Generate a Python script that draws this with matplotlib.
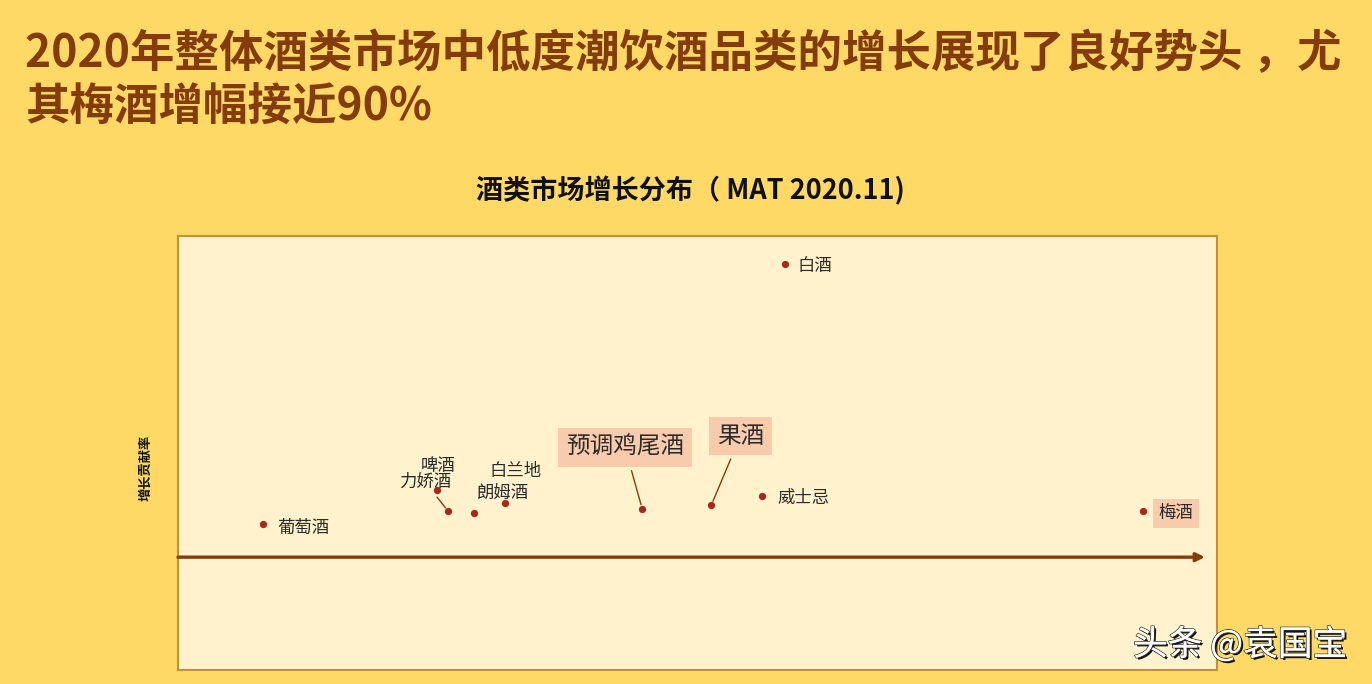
import matplotlib
matplotlib.use("Agg")
import matplotlib.pyplot as plt
import matplotlib.patheffects as pe

plt.rcParams['font.family'] = ['Noto Sans CJK SC', 'DejaVu Sans']

# ---- data (x = growth rate, y = growth contribution) ----
categories = ['葡萄酒', '啤酒', '力娇酒', '朗姆酒', '白兰地', '预调鸡尾酒', '果酒', '威士忌', '白酒', '梅酒']
growth     = [-15.2, 4.9, 6.2, 9.2, 12.8, 28.6, 36.6, 42.5, 45.1, 86.5]
contrib    = [3.8, 7.7, 5.3, 5.1, 6.2, 5.6, 6.0, 7.0, 33.8, 5.3]

title_text = '2020年整体酒类市场中低度潮饮酒品类的增长展现了良好势头 ，尤\n其梅酒增幅接近90%'
chart_title = '酒类市场增长分布（ MAT 2020.11)'
ylabel_text = '增长贡献率'
watermark = '头条 @袁国宝'

# label style per category: (dx px, dy px, ha, fontsize, boxed, leader line)
label_style = {
    '葡萄酒':   (15, -4, 'left', 12.5, False, False),
    '啤酒':     (1, 24, 'center', 12.5, False, False),
    '力娇酒':   (-23, 29, 'center', 12.5, False, True),
    '朗姆酒':   (28, 20, 'center', 12.5, False, False),
    '白兰地':   (10, 32, 'center', 12.5, False, False),
    '预调鸡尾酒': (-17, 61, 'center', 17, True, True),
    '果酒':     (29, 69, 'center', 17, True, True),
    '威士忌':   (15, -2, 'left', 12.5, False, False),
    '白酒':     (13, -2, 'left', 12.5, False, False),
    '梅酒':     (15, -2, 'left', 12.5, True, False),
}

OUTER = '#FFD966'
INNER = '#FFF2CC'
BROWN = '#843C0C'
DOT = '#A8281A'
BOX = '#F8CBAD'

fig = plt.figure(figsize=(13.72, 6.84), dpi=100, facecolor=OUTER)

fig.text(25 / 1372, 1 - 81 / 684, title_text, fontsize=32, fontweight='bold',
         color=BROWN, ha='left', va='center', linespacing=1.2)
fig.text(690 / 1372, 1 - 191 / 684, chart_title, fontsize=19.5, fontweight='bold',
         color='#111111', ha='center', va='center')
fig.text(145 / 1372, 1 - 468 / 684, ylabel_text, fontsize=9.5, fontweight='bold',
         color='#111111', ha='center', va='center', rotation=90)

ax = fig.add_axes([178 / 1372, 14 / 684, 1039 / 1372, 434 / 684])
ax.set_facecolor(INNER)
for s in ax.spines.values():
    s.set_color('#C0903A')
    s.set_linewidth(1.5)
ax.set_xticks([])
ax.set_yticks([])
ax.set_xlim(-25, 95)
ax.set_ylim(-13, 37)

# horizontal arrow axis at y = 0
ax.annotate('', xy=(93.6, 0), xytext=(-25, 0),
            arrowprops=dict(arrowstyle='-|>,head_length=0.5,head_width=0.25',
                            color=BROWN, lw=2.4, shrinkA=0, shrinkB=0))

ax.scatter(growth, contrib, s=18, color=DOT, zorder=5)

for name, x, y in zip(categories, growth, contrib):
    dx, dy, ha, fs, boxed, line = label_style[name]
    kw = {}
    if boxed:
        kw['bbox'] = dict(boxstyle='square,pad=0.32', fc=BOX, ec='none')
    if line:
        kw['arrowprops'] = dict(arrowstyle='-', color=BROWN, lw=1.0,
                                shrinkA=3, shrinkB=3)
    ax.annotate(name, xy=(x, y), xytext=(dx, dy), textcoords='offset pixels',
                ha=ha, va='center', fontsize=fs, color='#2B2B2B', zorder=6, **kw)

fig.text(1133 / 1372, 1 - 645 / 684, watermark, fontsize=25, color='white',
         ha='left', va='center',
         path_effects=[pe.withSimplePatchShadow(offset=(1.5, -1.5), shadow_rgbFace='black', alpha=0.9),
                       pe.withStroke(linewidth=1.2, foreground='#333333'), pe.Normal()])

fig.savefig('out.png', dpi=100, facecolor=OUTER)
